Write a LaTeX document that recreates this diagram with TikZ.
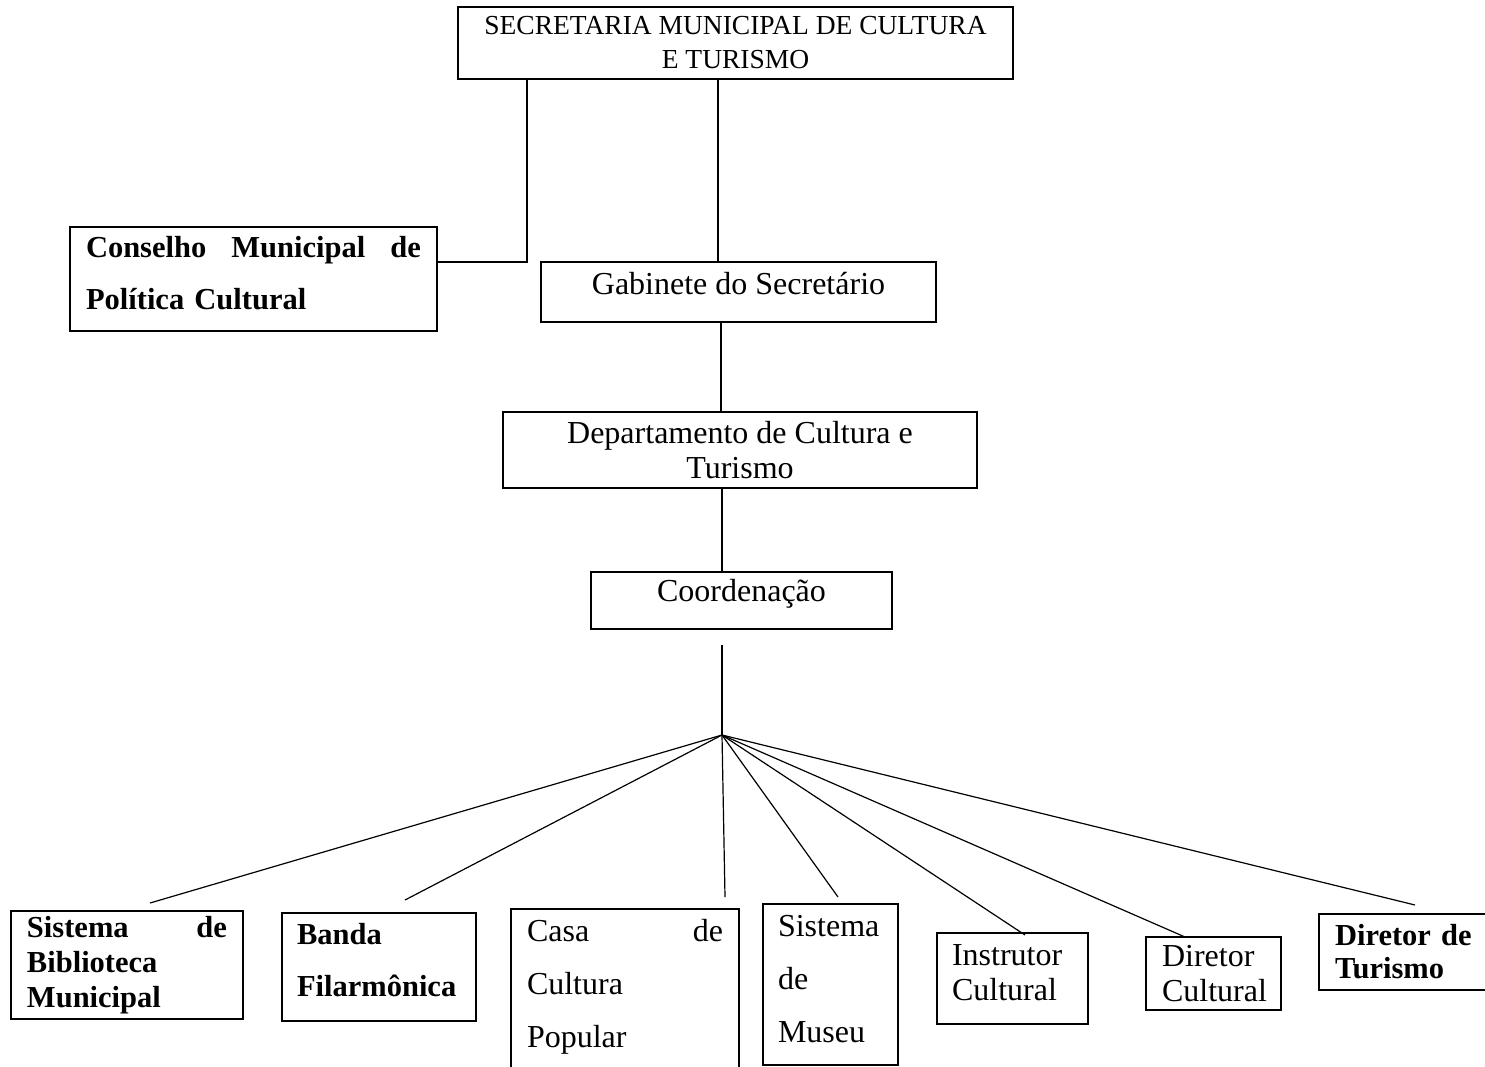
\documentclass[tikz,border=0pt]{standalone}
\usepackage{fontspec}
\setmainfont{Liberation Serif}
\usetikzlibrary{positioning}

\tikzset{
  unit/.style={draw, line width=1.2pt, inner xsep=15pt, inner ysep=4pt},
  reg/.style={font=\fontsize{32}{35}\selectfont},
  regwide/.style={font=\fontsize{32}{53}\selectfont},
  bld/.style={font=\bfseries\fontsize{30.5}{35}\selectfont},
  bldwide/.style={font=\bfseries\fontsize{30.5}{52}\selectfont},
  lift/.style={text depth=#1},
  link/.style={line width=1.2pt}
}

\begin{document}
\begin{tikzpicture}[x=1pt, y=-1pt]
	\useasboundingbox (0,0) rectangle (1485,1067);

	% top of the chart
	\node[unit, align=center, minimum width=555pt, minimum height=72pt, font=\fontsize{27.5}{34}\selectfont] (sec) at (735.5,43) {SECRETARIA MUNICIPAL DE CULTURA\\E TURISMO};
	\node[unit, bldwide, lift=64pt, align=left, text width=335pt, minimum width=367pt, minimum height=104pt] (cons) at (253.5,279) {Conselho\hfill Municipal\hfill de\\Política Cultural};
	\node[unit, reg, lift=18pt, align=center, minimum width=395pt, minimum height=60pt] (gab) at (738.5,292) {Gabinete do Secretário};
	\node[unit, reg, align=center, minimum width=474pt, minimum height=76pt] (dep) at (740,450) {Departamento de Cultura e\\Turismo};
	\node[unit, reg, lift=21pt, align=center, minimum width=301pt, minimum height=57pt] (coo) at (741.5,600.5) {Coordenação};

	% bottom row
	\node[unit, bld, align=left, text width=200pt, minimum width=232pt, minimum height=108pt] (bib) at (127,965) {Sistema\hfill de\\Biblioteca\\Municipal};
	\node[unit, bldwide, lift=66pt, align=left, text width=164pt, minimum width=194pt, minimum height=108pt] (ban) at (379,967) {Banda\\Filarmônica};
	\node[unit, regwide, lift=127pt, align=left, text width=196pt, minimum width=228pt, minimum height=170pt] (casa) at (625,994) {Casa\hfill de\\Cultura\\Popular};
	\node[unit, regwide, lift=118pt, align=left, text width=105pt, minimum width=135pt, minimum height=161pt] (mus) at (830.5,984.5) {Sistema\\de\\Museu};
	\node[unit, reg, lift=47pt, align=left, text width=121pt, minimum width=151pt, minimum height=91pt] (ins) at (1012.5,978.5) {Instrutor\\Cultural};
	\node[unit, reg, align=left, text width=103pt, minimum width=135pt, minimum height=73pt] (dc) at (1213.5,973.5) {Diretor\\Cultural};
	\node[unit, bld, align=left, text width=148pt, minimum width=180pt, minimum height=76pt, font=\bfseries\fontsize{30.5}{33}\selectfont] (dt) at (1409,952) {Diretor de\\Turismo};

	% free ends of the connectors
	\coordinate (cbend) at (527,262);
	\coordinate (ctop) at (722,645);
	\coordinate (hub) at (722,735);
	\coordinate (ebib) at (150,903);
	\coordinate (eban) at (405,900);
	\coordinate (ecasa) at (725,897);
	\coordinate (emus) at (838,897);
	\coordinate (eins) at (1025,935);
	\coordinate (edc) at (1185,937);
	\coordinate (edt) at (1415,905);

	\path [draw, link] (cbend |- sec.south) -- (cbend) -- (cbend -| cons.east);
	\path [draw, link] (sec.south -| 718,0) -- (gab.north -| 718,0);
	\path [draw, link] (gab.south -| 721,0) -- (dep.north -| 721,0);
	\path [draw, link] (dep.south -| 722,0) -- (coo.north -| 722,0);
	\path [draw, link] (ctop) -- (hub);
	\path [draw, link] (hub) -- (ebib);
	\path [draw, link] (hub) -- (eban);
	\path [draw, link] (hub) -- (ecasa);
	\path [draw, link] (hub) -- (emus);
	\path [draw, link] (hub) -- (eins);
	\path [draw, link] (hub) -- (edc);
	\path [draw, link] (hub) -- (edt);
\end{tikzpicture}
\end{document}
